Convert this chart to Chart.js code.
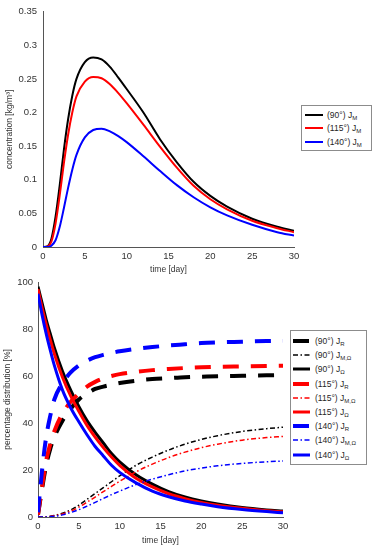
<!doctype html>
<html>
<head>
<title>Concentration and percentage distribution</title>
<script src="https://cdn.jsdelivr.net/npm/chart.js@4.4.1/dist/chart.umd.min.js"></script>
<style>
  body { margin: 0; background: #fff; font-family: 'Liberation Sans', Arial, sans-serif; }
  #page { position: relative; width: 376px; height: 550px; overflow: hidden; }
  .holder { position: absolute; left: 0; width: 376px; height: 285px; }
  .legend { position: absolute; background: #fff; border: 1px solid #8c8c8c; box-sizing: border-box;
            font-size: 8.5px; color: #262626; }
  .legend .row { display: flex; align-items: center; white-space: nowrap; }
  .legend svg { display: block; }
  .legend sub { font-size: 6px; vertical-align: -1.5px; line-height: 0; }
</style>
</head>
<body>
<div id="page">
  <div class="holder" style="top:0px"><canvas id="topChart" width="376" height="285"></canvas></div>
  <div class="holder" style="top:265px"><canvas id="bottomChart" width="376" height="285"></canvas></div>
  <div class="legend" id="topLegend" style="left:301px;top:105px;width:71px;height:46px;padding-top:2px"></div>
  <div class="legend" id="bottomLegend" style="left:290px;top:330px;width:77px;height:135px;padding-top:3px"></div>
</div>
<script>
// ---- data ----
var angles = ['90°', '115°', '140°'];
var angleColors = ['#000000', '#ff0000', '#0000ff'];
var xTicks = [0, 30, 5];          // min, max, step (days)

// top: concentration J_M [kg/m3]
var timeTop = [0, 0.5, 1, 1.5, 2, 2.5, 3, 3.5, 4, 5, 6, 7, 8, 9, 10, 12, 14, 16, 18, 20, 22, 25, 28, 30];
var concM90  = [0, 0.001, 0.012, 0.045, 0.092, 0.145, 0.190, 0.225, 0.250, 0.275, 0.282, 0.279, 0.268, 0.252, 0.235, 0.200, 0.160, 0.126, 0.097, 0.076, 0.060, 0.042, 0.030, 0.024];
var concM115 = [0, 0.0005, 0.008, 0.035, 0.077, 0.125, 0.167, 0.200, 0.224, 0.246, 0.253, 0.251, 0.242, 0.229, 0.214, 0.182, 0.149, 0.118, 0.091, 0.071, 0.056, 0.039, 0.028, 0.022];
var concM140 = [0, 0, 0.002, 0.010, 0.030, 0.058, 0.088, 0.115, 0.137, 0.163, 0.174, 0.176, 0.172, 0.165, 0.156, 0.135, 0.113, 0.092, 0.074, 0.059, 0.047, 0.033, 0.022, 0.017];
var concTicks = [0, 0.35, 0.05];

// bottom: percentage distribution [%]
var timeBottom = [0, 0.5, 1, 1.5, 2, 3, 4, 5, 6, 7, 8, 9, 10, 12, 14, 16, 18, 20, 22, 25, 28, 30];
var pctR90   = [1, 12, 22, 29, 34, 41, 46, 50, 52.5, 54.5, 55.5, 56.3, 57, 58, 58.7, 59.1, 59.5, 59.7, 59.9, 60.1, 60.3, 60.4];
var pctMO90  = [0, 0, 0.1, 0.3, 0.6, 1.6, 3, 5, 7.5, 10, 12.5, 15, 17.5, 22, 25.5, 28.5, 31, 33, 34.6, 36.4, 37.6, 38.2];
var pctO90   = [98, 91, 84, 78, 72, 62, 54, 47, 41, 36, 31.5, 27, 23.5, 18, 14, 10.8, 8.5, 6.8, 5.5, 4, 3, 2.5];
var pctR115  = [1, 13, 24, 31, 36.5, 44, 49, 52.5, 55.5, 57.5, 59, 60, 60.8, 61.8, 62.5, 63, 63.4, 63.7, 63.9, 64.1, 64.3, 64.4];
var pctMO115 = [0, 0, 0.1, 0.25, 0.5, 1.3, 2.5, 4.2, 6.3, 8.5, 10.8, 13, 15.2, 19.2, 22.5, 25.3, 27.6, 29.5, 31, 32.7, 33.8, 34.3];
var pctO115  = [97, 89, 82, 75.5, 69.5, 59.5, 51.5, 45, 39, 34, 29.5, 25.5, 22, 16.5, 12.8, 9.9, 7.8, 6.2, 5, 3.7, 2.7, 2.2];
var pctR140  = [2, 20, 34, 43, 50, 57, 61.5, 64.5, 66.5, 68, 69, 69.8, 70.5, 71.5, 72.3, 73, 73.5, 74, 74.3, 74.6, 74.9, 75];
var pctMO140 = [0, 0, 0.05, 0.15, 0.3, 0.9, 1.9, 3.1, 4.6, 6.2, 7.9, 9.5, 11, 13.8, 16.1, 18, 19.6, 20.8, 21.8, 22.8, 23.5, 23.8];
var pctO140  = [95, 86, 78, 71, 64.5, 54, 46.5, 40.5, 35, 30, 26, 22, 19, 14.5, 11, 8.6, 6.8, 5.5, 4.4, 3.2, 2.3, 1.8];
var pctTicks = [0, 100, 20];

var textColor = '#333333';
var axisColor = '#555555';

function toPoints(xs, ys) {
  return xs.map(function(x, i) { return {x: x, y: ys[i]}; });
}

function line(label, xs, ys, color, width, dash, order) {
  return {
    label: label, data: toPoints(xs, ys),
    borderColor: color, backgroundColor: color,
    borderWidth: width, borderDash: dash || [],
    pointRadius: 0, fill: false,
    cubicInterpolationMode: 'monotone',
    order: order
  };
}

function makeOptions(o) {
  return {
    responsive: false, animation: false,
    layout: { padding: o.padding },
    plugins: { legend: { display: false }, tooltip: { enabled: false } },
    scales: {
      x: {
        type: 'linear', min: xTicks[0], max: xTicks[1],
        grid: { display: false, drawTicks: false },
        border: { display: true, color: axisColor, width: 1 },
        ticks: { stepSize: xTicks[2], padding: 4, color: textColor, font: { size: 9.5, family: 'Liberation Sans' } },
        title: { display: true, text: 'time [day]', padding: 0, color: textColor, font: { size: 8.5, family: 'Liberation Sans' } },
        afterFit: function(s) { s.height = o.xHeight; }
      },
      y: {
        type: 'linear', min: o.yTicks[0], max: o.yTicks[1],
        grid: { display: false, drawTicks: false },
        border: { display: true, color: axisColor, width: 1 },
        ticks: {
          stepSize: o.yTicks[2], padding: o.yPad, color: textColor,
          font: { size: 9.5, family: 'Liberation Sans' },
          callback: function(v) { return String(+v.toFixed(3)); }
        },
        title: { display: true, text: o.yTitle, padding: 0, color: textColor, font: { size: 8.5, family: 'Liberation Sans' } },
        afterFit: function(s) { s.width = o.yWidth; }
      }
    }
  };
}

function buildLegend(chart, el, sw) {
  chart.data.datasets.forEach(function(ds) {
    var parts = ds.label.split('_');
    var row = document.createElement('div');
    row.className = 'row';
    row.style.height = sw.row + 'px';
    var dash = ds.borderDash.length ? ' stroke-dasharray="' + ds.borderDash.join(',') + '"' : '';
    row.innerHTML = '<svg width="' + sw.w + '" height="8" style="margin-left:' + sw.ml + 'px;margin-right:' + sw.mr + 'px">' +
      '<line x1="0" y1="4" x2="' + sw.w + '" y2="4" stroke="' + ds.borderColor + '" stroke-width="' + ds.borderWidth + '"' + dash + '/></svg>' +
      '<span>' + parts[0] + '<sub>' + parts[1] + '</sub></span>';
    el.appendChild(row);
  });
}

var topSets = [concM90, concM115, concM140].map(function(ys, i) {
  return line('(' + angles[i] + ') J_M', timeTop, ys, angleColors[i], 2, null, 3 - i);
});

var bottomSeries = [[pctR90, pctMO90, pctO90], [pctR115, pctMO115, pctO115], [pctR140, pctMO140, pctO140]];
var bottomSets = [];
bottomSeries.forEach(function(group, i) {
  var o = 9 - i * 3;
  bottomSets.push(line('(' + angles[i] + ') J_R', timeBottom, group[0], angleColors[i], 4, [16, 12], o));
  bottomSets.push(line('(' + angles[i] + ') J_M,Ω', timeBottom, group[1], angleColors[i], 1.5, [5, 2.5, 1.5, 2.5], o - 1));
  bottomSets.push(line('(' + angles[i] + ') J_Ω', timeBottom, group[2], angleColors[i], 3, null, o - 2));
});

var topChart = new Chart(document.getElementById('topChart').getContext('2d'), {
  type: 'line',
  data: { datasets: topSets },
  options: makeOptions({
    padding: { left: 5, right: 82, top: 11, bottom: 10 },
    xHeight: 28, yWidth: 38, yPad: 6, yTicks: concTicks,
    yTitle: 'concentration [kg/m³]'
  })
});

var bottomChart = new Chart(document.getElementById('bottomChart').getContext('2d'), {
  type: 'line',
  data: { datasets: bottomSets },
  options: makeOptions({
    padding: { left: 3, right: 93, top: 17, bottom: 4 },
    xHeight: 29, yWidth: 35, yPad: 5, yTicks: pctTicks,
    yTitle: 'percentage distribution [%]'
  })
});

buildLegend(topChart, document.getElementById('topLegend'), { w: 18, ml: 3, mr: 4, row: 13.5 });
buildLegend(bottomChart, document.getElementById('bottomLegend'), { w: 17, ml: 2, mr: 5, row: 14.2 });
</script>
</body>
</html>
